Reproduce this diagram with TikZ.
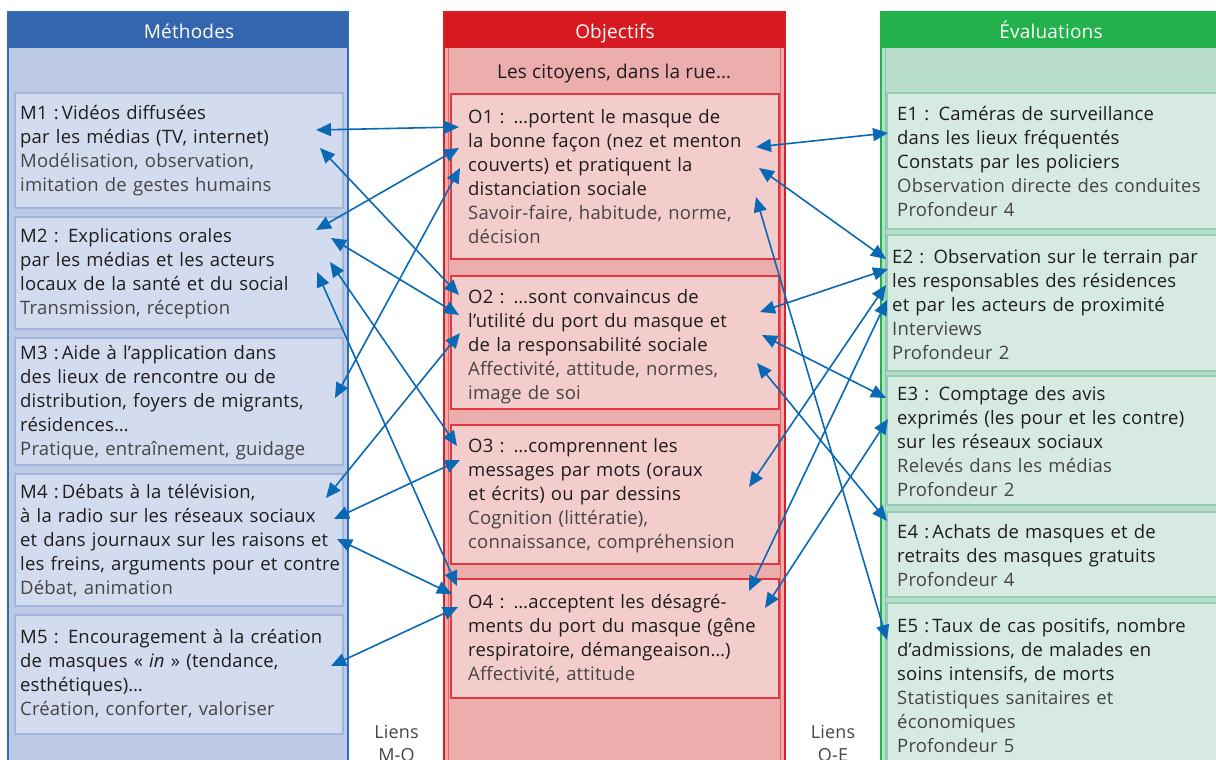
\documentclass[tikz,border=0pt]{standalone}
\usepackage{fontspec}
\setmainfont{Open Sans}[LetterSpace=1]
\usetikzlibrary{arrows.meta}
\definecolor{mhead}{HTML}{3466AF}
\definecolor{mframe}{HTML}{2F6DB5}
\definecolor{mbody}{HTML}{BDCAE5}
\definecolor{mboxf}{HTML}{D3DBEF}
\definecolor{mboxd}{HTML}{A2B5DC}
\definecolor{ohead}{HTML}{D71A21}
\definecolor{oframe}{HTML}{D92027}
\definecolor{oinner}{HTML}{E5686C}
\definecolor{obody}{HTML}{EBAEAD}
\definecolor{oboxf}{HTML}{F3CDCB}
\definecolor{oboxd}{HTML}{E2383D}
\definecolor{ehead}{HTML}{23B14B}
\definecolor{eframe}{HTML}{22B14C}
\definecolor{einner}{HTML}{7FCB9A}
\definecolor{ebody}{HTML}{B9DDCD}
\definecolor{eboxf}{HTML}{D7EAE2}
\definecolor{eboxd}{HTML}{92CDB3}
\definecolor{tdark}{HTML}{1F1C1D}
\definecolor{tgray}{HTML}{474445}
\definecolor{link}{HTML}{0A69B5}
\newcommand\lite{\color{tgray}}
\tikzset{
  colbody/.style={line width=2pt},
  boxn/.style={anchor=north west, inner sep=0pt, outer sep=0pt, line width=1.3pt},
  mbox/.style={boxn, fill=mboxf, draw=mboxd},
  obox/.style={boxn, fill=oboxf, draw=oboxd},
  ebox/.style={boxn, fill=eboxf, draw=eboxd, line width=1.5pt},
  txt/.style={anchor=north west, inner sep=0pt, text width=345pt, align=left,
    font=\fontsize{18.5}{24}\selectfont, text=tdark},
  headtxt/.style={anchor=base, inner sep=0pt, font=\fontsize{19}{22}\selectfont, text=white},
  lientxt/.style={anchor=base, inner sep=0pt, align=center, font=\fontsize{18}{23}\selectfont, text=tgray},
  lnk/.style={draw=link, line width=1.6pt, {Triangle[length=15pt,width=13pt]}-{Triangle[length=15pt,width=13pt]}}
}
\begin{document}
\begin{tikzpicture}[x=1pt,y=-1pt]
\useasboundingbox (0,0) rectangle (1216,760);
% ---------- columns ----------
\fill[mbody] (8,12) rectangle (348,800);
\fill[mhead] (8,12) rectangle (348,48);
\draw[mframe, colbody] (8,800) -- (8,12) -- (348,12) -- (348,800);
\fill[obody] (444,12) rectangle (785,800);
\fill[ohead] (444,12) rectangle (785,48);
\draw[oinner, line width=0.8pt] (448.5,48) -- (448.5,800) (780.5,48) -- (780.5,800);
\draw[oframe, colbody] (444,800) -- (444,12) -- (785,12) -- (785,800);
\fill[ebody] (881,12) rectangle (1230,800);
\fill[ehead] (881,12) rectangle (1230,48);
\draw[einner, line width=0.8pt] (885.5,48) -- (885.5,800);
\draw[eframe, colbody] (881,800) -- (881,12) -- (1230,12);
\node[headtxt] (hm) at (189,39) {Méthodes};
\node[headtxt] (ho) at (615,39) {Objectifs};
\node[headtxt] (he) at (1051,39) {Évaluations};
\node[anchor=base, inner sep=0pt, font=\fontsize{19}{22}\selectfont, text=tdark] (cit) at (614,78) {Les citoyens, dans la rue…};
% ---------- boxes ----------
\node[mbox, minimum width=328pt, minimum height=115pt] (M1) at (15,93) {};
\node[mbox, minimum width=328pt, minimum height=112pt] (M2) at (15,217) {};
\node[mbox, minimum width=328pt, minimum height=127pt] (M3) at (15,338) {};
\node[mbox, minimum width=328pt, minimum height=132pt] (M4) at (15,474) {};
\node[mbox, minimum width=328pt, minimum height=119pt] (M5) at (15,615) {};
\node[obox, minimum width=328pt, minimum height=165pt] (O1) at (451,94) {};
\node[obox, minimum width=328pt, minimum height=133pt] (O2) at (451,276) {};
\node[obox, minimum width=328pt, minimum height=139pt] (O3) at (451,425) {};
\node[obox, minimum width=328pt, minimum height=119pt] (O4) at (451,579) {};
\node[ebox, minimum width=340pt, minimum height=136pt] (E1) at (887,93) {};
\node[ebox, minimum width=340pt, minimum height=136pt] (E2) at (887,235) {};
\node[ebox, minimum width=340pt, minimum height=129pt] (E3) at (887,376) {};
\node[ebox, minimum width=340pt, minimum height=85pt] (E4) at (887,512) {};
\node[ebox, minimum width=340pt, minimum height=200pt] (E5) at (887,603) {};
% ---------- texts ----------
\node[txt] (tM1) at (20,102.2) {\strut M1 :\,Vidéos diffusées\\par les médias (TV, internet)\\\lite Modélisation, observation,\\imitation de gestes humains};
\node[txt] (tM2) at (20,225.2) {\strut M2 : Explications orales\\par les médias et les acteurs\\locaux de la santé et du social\\\lite Transmission, réception};
\node[txt] (tM3) at (20,342.2) {\strut M3 :\,Aide à l’application dans\\des lieux de rencontre ou de\\distribution, foyers de migrants,\\résidences…\\\lite Pratique, entraînement, guidage};
\node[txt] (tM4) at (20,481.2) {\strut M4 :\,Débats à la télévision,\\à la radio sur les réseaux sociaux\\et dans journaux sur les raisons et\\les freins, arguments pour et contre\\\lite Débat, animation};
\node[txt] (tM5) at (20,626.2) {\strut M5 : Encouragement à la création\\de masques « \textit{in} » (tendance,\\esthétiques)…\\\lite Création, conforter, valoriser};
\node[txt] (tO1) at (468,106.2) {\strut O1 : …portent le masque de\\la bonne façon (nez et menton\\couverts) et pratiquent la\\distanciation sociale\\\lite Savoir-faire, habitude, norme,\\décision};
\node[txt] (tO2) at (468,286.2) {\strut O2 : …sont convaincus de\\l’utilité du port du masque et\\de la responsabilité sociale\\\lite Affectivité, attitude, normes,\\image de soi};
\node[txt] (tO3) at (468,435.2) {\strut O3 : …comprennent les\\messages par mots (oraux\\et écrits) ou par dessins\\\lite Cognition (littératie),\\connaissance, compréhension};
\node[txt] (tO4) at (468,591.2) {\strut O4 : …acceptent les désagré-\\ments du port du masque (gêne\\respiratoire, démangeaison…)\\\lite Affectivité, attitude};
\node[txt] (tE1) at (897,103.2) {\strut E1 : Caméras de surveillance\\dans les lieux fréquentés\\Constats par les policiers\\\lite Observation directe des conduites\\Profondeur 4};
\node[txt] (tE2) at (892,246.2) {\strut E2 : Observation sur le terrain par\\les responsables des résidences\\et par les acteurs de proximité\\\lite Interviews\\Profondeur 2};
\node[txt] (tE3) at (897,383.2) {\strut E3 : Comptage des avis\\exprimés (les pour et les contre)\\sur les réseaux sociaux\\\lite Relevés dans les médias\\Profondeur 2};
\node[txt] (tE4) at (897,521.2) {\strut E4 :\,Achats de masques et de\\retraits des masques gratuits\\\lite Profondeur 4};
\node[txt] (tE5) at (897,615.2) {\strut E5 :\,Taux de cas positifs, nombre\\d’admissions, de malades en\\soins intensifs, de morts\\\lite Statistiques sanitaires et\\économiques\\Profondeur 5};
\node[lientxt] (lmo) at (396.5,761) {Liens\\M-O};
\node[lientxt] (loe) at (833,761) {Liens\\O-E};
% ---------- link end points ----------
\coordinate (m1a) at (316,130);  \coordinate (o1a) at (459,127);
\coordinate (m1b) at (320,148);  \coordinate (o2a) at (459,295);
\coordinate (m2a) at (316,230);  \coordinate (o1b) at (459,148);
\coordinate (m2b) at (331,238);  \coordinate (o2b) at (459,315);
\coordinate (m2c) at (330,262);  \coordinate (o3a) at (457,446);
\coordinate (m2d) at (317,272);  \coordinate (o4a) at (457,586);
\coordinate (m3a) at (335,398);  \coordinate (o1c) at (460,168);
\coordinate (m4a) at (326,498);  \coordinate (o2c) at (460,333);
\coordinate (m4b) at (334,519);  \coordinate (o3b) at (460,460);
\coordinate (m4c) at (337,539);  \coordinate (o4b) at (452,594);
\coordinate (m5a) at (331,666);  \coordinate (o4c) at (458,607);
\coordinate (o1d) at (756,147);  \coordinate (e1a) at (888,133);
\coordinate (o1e) at (759,168);  \coordinate (e2a) at (886,259);
\coordinate (o1f) at (756,197);  \coordinate (e5a) at (887,640);
\coordinate (o2d) at (760,312);  \coordinate (e2b) at (888,269);
\coordinate (o2e) at (762,335);  \coordinate (e3a) at (886,398);
\coordinate (o2f) at (757,363);  \coordinate (e4a) at (887,521);
\coordinate (o3c) at (749,487);  \coordinate (e2c) at (886,285);
\coordinate (o4d) at (749,591);  \coordinate (e2d) at (887,300);
\coordinate (o4e) at (765,608);  \coordinate (e3b) at (888,419);
% ---------- links ----------
\draw[lnk] (m1a) -- (o1a);
\draw[lnk] (m1b) -- (o2a);
\draw[lnk] (m2a) -- (o1b);
\draw[lnk] (m2b) -- (o2b);
\draw[lnk] (m2c) -- (o3a);
\draw[lnk] (m2d) -- (o4a);
\draw[lnk] (m3a) -- (o1c);
\draw[lnk] (m4a) -- (o2c);
\draw[lnk] (m4b) -- (o3b);
\draw[lnk] (m4c) -- (o4b);
\draw[lnk] (m5a) -- (o4c);
\draw[lnk] (o1d) -- (e1a);
\draw[lnk] (o1e) -- (e2a);
\draw[lnk] (o1f) -- (e5a);
\draw[lnk] (o2d) -- (e2b);
\draw[lnk] (o2e) -- (e3a);
\draw[lnk] (o2f) -- (e4a);
\draw[lnk] (o3c) -- (e2c);
\draw[lnk] (o4d) -- (e2d);
\draw[lnk] (o4e) -- (e3b);
\end{tikzpicture}
\end{document}
